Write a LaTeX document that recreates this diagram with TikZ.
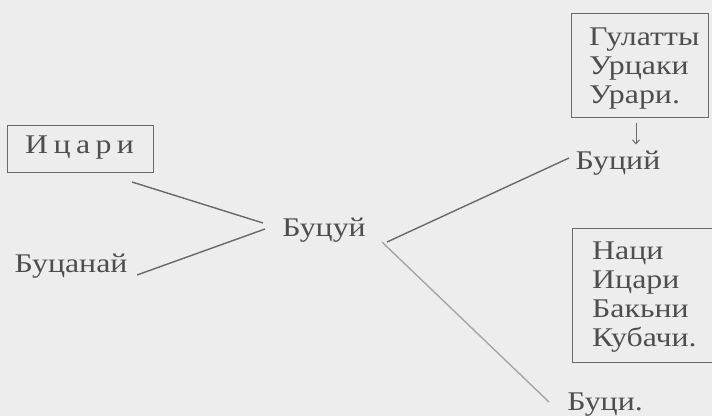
\documentclass[tikz,border=0pt]{standalone}
\usepackage{fontspec}
\setmainfont{Liberation Serif}[FakeStretch=1.18]
\newfontfamily\spacedfont{Liberation Serif}[FakeStretch=1.18,LetterSpace=20]
\usetikzlibrary{arrows.meta}
\definecolor{bgc}{RGB}{237,237,237}
\definecolor{txc}{RGB}{78,78,78}
\definecolor{lnc}{RGB}{105,105,105}
\tikzset{
  lbl/.style={text=txc, font=\fontsize{27}{28.7}\selectfont, inner sep=0pt},
  frame/.style={draw=lnc, line width=1pt},
  conn/.style={draw=lnc, line width=1.4pt},
}
\begin{document}
\begin{tikzpicture}[x=1pt,y=-1pt]
\fill[bgc] (0,0) rectangle (712,416);
\useasboundingbox (0,0) rectangle (712,416);
% boxes
\node[frame, minimum width=146pt, minimum height=47pt, inner sep=0pt] (ic) at (80,148.5) {};
\node[lbl, font=\fontsize{27}{29}\spacedfont, anchor=base west] (ictxt) at (25,153) {Ицари};
\node[frame, minimum width=137pt, minimum height=104pt, inner sep=0pt] (b2) at (639.5,65) {};
\node[lbl, align=left, anchor=base west] (b2txt) at (589,103) {Гулатты\\Урцаки\\Урари.};
\node[minimum width=139pt, minimum height=133pt, inner sep=0pt] (b3) at (642.5,295.5) {};
\node[lbl, align=left, anchor=base west, font=\fontsize{27}{29}\selectfont] (b3txt) at (592,346) {Наци\\Ицари\\Бакьни\\Кубачи.};
\draw[frame] (b3.north east) -- (b3.north west) -- (b3.south west) -- (b3.south east);
% words
\node[lbl, anchor=base] (bucanaj) at (71,272) {Буцанай};
\node[lbl, anchor=base] (bucuj) at (324,236) {Буцуй};
\node[lbl, anchor=base] (bucij) at (618,169) {Буций};
\node[lbl, anchor=base] (buci) at (605,410) {Буци.};
% connectors
\coordinate (a1) at (132,182);
\coordinate (a2) at (263,223);
\coordinate (b1) at (137,275);
\coordinate (b2e) at (265,229);
\coordinate (c1) at (387,242);
\coordinate (c2) at (569,158);
\coordinate (d1) at (382,242);
\coordinate (d2) at (549,402);
\draw[conn] (a1) -- (a2);
\draw[conn] (b1) -- (b2e);
\draw[conn] (c1) -- (c2);
\draw[conn, draw=lnc!60] (d1) -- (d2);
\draw[draw=lnc, line width=1pt, -{Straight Barb[length=4pt,width=7pt]}] ([xshift=-3.5pt,yshift=-5pt]b2.south) -- ([xshift=-3.5pt,yshift=-27pt]b2.south);
\end{tikzpicture}
\end{document}
